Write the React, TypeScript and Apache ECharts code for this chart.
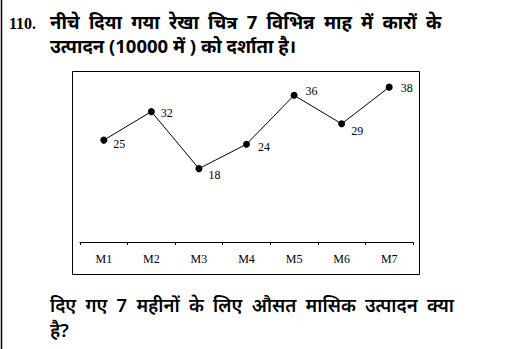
import React, { useEffect, useRef } from "react";
import * as echarts from "echarts";

const months = ["M1", "M2", "M3", "M4", "M5", "M6", "M7"];
const production = [25, 32, 18, 24, 36, 29, 38];
const labelShifts = [[1, 4], [1, 1], [1, 6], [3, 3], [3, -4], [1, 7], [3, 1]];

const headLine1 = "नीचे दिया गया रेखा चित्र 7 विभिन्न माह में कारों के";
const headLine2 = "उत्पादन (10000 में ) को दर्शाता है।";
const qNumber = "110.";
const footLine1 = "दिए गए 7 महीनों के लिए औसत मासिक उत्पादन क्या";
const footLine2 = "है?";

const hindiFont = "'Noto Sans', 'Noto Sans Devanagari', 'Lohit Devanagari', sans-serif";
const serifFont = "'Liberation Serif', 'Times New Roman', serif";

// justified first lines: widen inter-word gaps
const justify = (s: string) => s.replace(/ /g, "\u2002");

export default function App() {
  const ref = useRef<HTMLDivElement>(null);
  useEffect(() => {
    if (!ref.current) return;
    const chart = echarts.init(ref.current, null, { renderer: "svg" });
    chart.setOption({
      animation: false,
      backgroundColor: "#ffffff",
      grid: { left: 80, top: 79, width: 333, height: 163 },
      xAxis: {
        type: "category",
        data: months,
        boundaryGap: true,
        axisLine: { lineStyle: { color: "#000", width: 1 } },
        axisTick: { show: true, length: 3, lineStyle: { color: "#000" } },
        axisLabel: { color: "#000", fontFamily: serifFont, fontSize: 12, margin: 11 },
        splitLine: { show: false },
      },
      yAxis: {
        type: "value",
        min: 0,
        max: 40,
        show: false,
        splitLine: { show: false },
      },
      series: [
        {
          type: "line",
          data: production.map((v, i) => ({
            value: v,
            label: { offset: labelShifts[i] },
          })),
          symbol: "circle",
          symbolSize: 7,
          lineStyle: { color: "#000", width: 1 },
          itemStyle: { color: "#000" },
          label: {
            show: true,
            position: "right",
            distance: 5,
            color: "#000",
            fontFamily: serifFont,
            fontSize: 12,
          },
        },
      ],
      graphic: [
        { type: "line", shape: { x1: 1.5, y1: 0, x2: 1.5, y2: 349 }, style: { stroke: "#000", lineWidth: 1.5 } },
        { type: "rect", shape: { x: 72.5, y: 71.5, width: 347, height: 203 }, style: { fill: "none", stroke: "#000", lineWidth: 1 } },
        { type: "text", style: { text: qNumber, x: 9, y: 23, fontFamily: serifFont, fontWeight: "bold", fontSize: 16, fill: "#000", verticalAlign: "middle" } },
        { type: "text", style: { text: justify(headLine1) + "\n" + headLine2, x: 50, y: 9, lineHeight: 24, fontFamily: hindiFont, fontWeight: "bold", fontSize: 18.5, fill: "#000", verticalAlign: "top" } },
        { type: "text", style: { text: justify(footLine1) + "\n" + footLine2, x: 50, y: 292, lineHeight: 25, fontFamily: hindiFont, fontWeight: 600, fontSize: 18.5, fill: "#000", verticalAlign: "top" } },
      ],
    });
    return () => chart.dispose();
  }, []);
  return (
    <div
      ref={ref}
      style={{ position: "fixed", left: 0, top: 0, width: 525, height: 349, background: "#fff" }}
    />
  );
}
